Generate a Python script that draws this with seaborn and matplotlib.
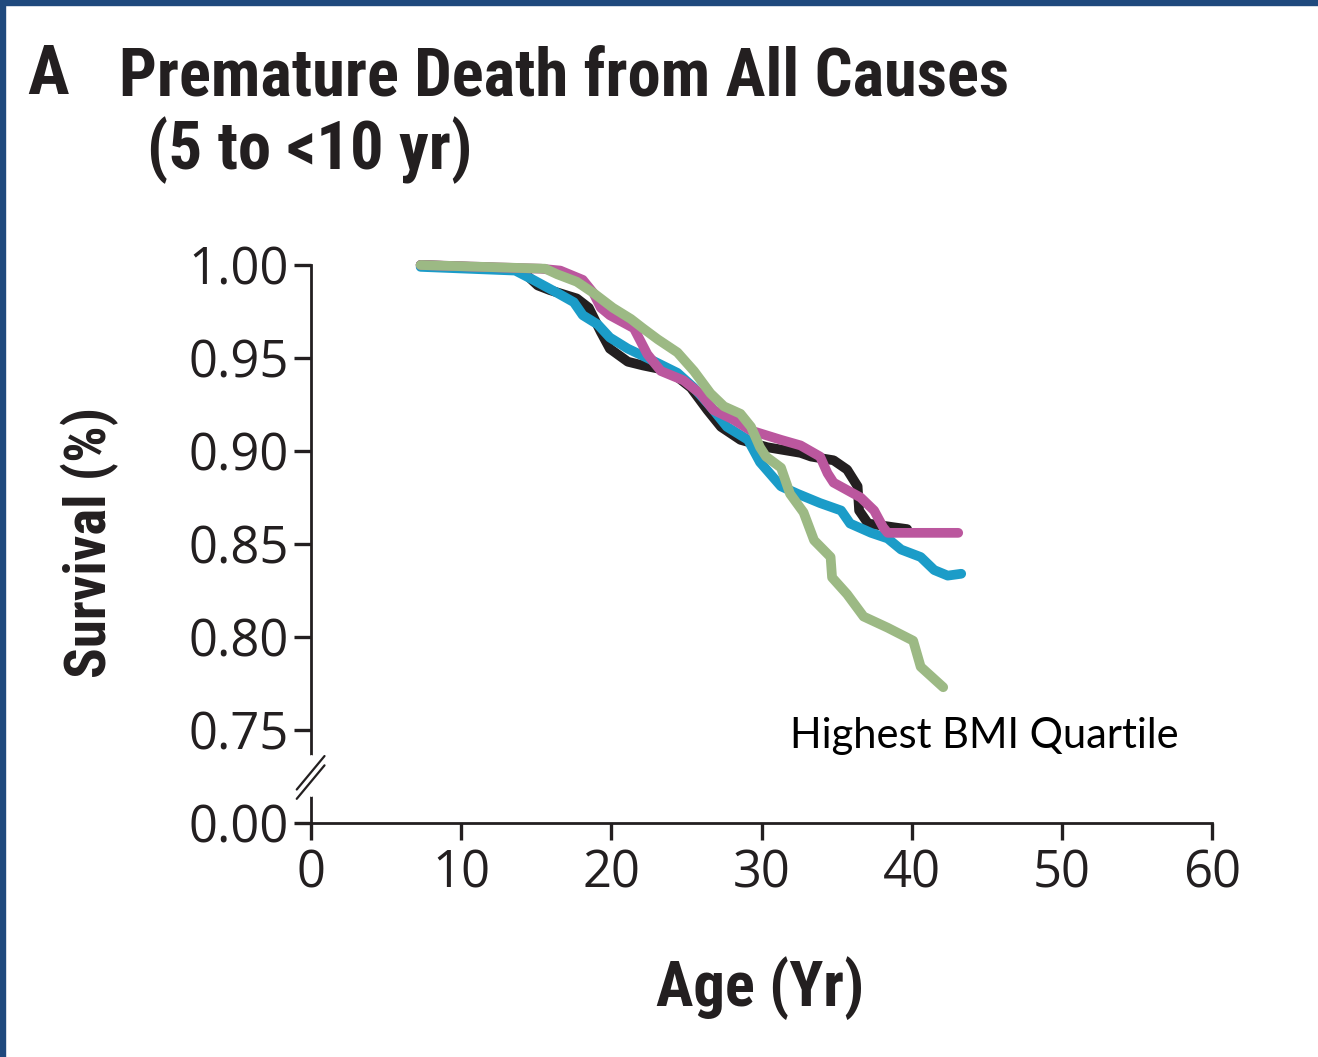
import numpy as np
import pandas as pd
import matplotlib
matplotlib.use("Agg")
import matplotlib.pyplot as plt
from matplotlib import font_manager
import seaborn as sns

# ---------------- data ----------------
black_age = [7.3, 13.9, 15.1, 15.9, 17.7, 18.5, 19.3, 19.9, 21.1, 22.1, 23.9, 25.3, 26.4, 27.3, 28.6,
             30.4, 32.6, 33.3, 34.8, 35.7, 36.4, 36.5, 37.1, 38.8, 39.7]
black_surv = [1.000, 0.998, 0.989, 0.9865, 0.982, 0.977, 0.964, 0.955, 0.948, 0.946, 0.943, 0.934, 0.922,
              0.913, 0.906, 0.902, 0.899, 0.897, 0.895, 0.890, 0.881, 0.868, 0.861, 0.859, 0.858]

blue_age = [7.3, 13.6, 14.8, 16.4, 17.5, 18.1, 19.1, 19.9, 21.1, 22.4, 24.4, 25.5, 26.6, 27.7, 29.1,
            29.9, 31.3, 32.4, 33.9, 35.3, 35.9, 37.3, 38.4, 39.3, 40.6, 41.5, 42.4, 43.3]
blue_surv = [0.999, 0.997, 0.992, 0.985, 0.980, 0.973, 0.968, 0.961, 0.955, 0.950, 0.942, 0.934, 0.924,
             0.913, 0.906, 0.894, 0.881, 0.877, 0.872, 0.868, 0.861, 0.856, 0.853, 0.847, 0.843, 0.836,
             0.833, 0.834]

magenta_age = [7.3, 15.3, 16.6, 18.1, 18.8, 19.3, 19.9, 21.5, 22.4, 23.3, 24.8, 25.9, 26.8, 28.1, 29.3,
               31.3, 32.6, 33.9, 34.4, 34.8, 36.6, 37.5, 38.1, 38.4, 39.9, 43.1]
magenta_surv = [1.000, 0.998, 0.997, 0.992, 0.985, 0.977, 0.973, 0.966, 0.952, 0.943, 0.938, 0.931,
                0.922, 0.917, 0.911, 0.906, 0.903, 0.897, 0.888, 0.883, 0.875, 0.868, 0.859, 0.856,
                0.856, 0.856]

green_age = [7.3, 15.6, 16.4, 17.7, 18.8, 20.1, 21.3, 22.1, 23.1, 24.4, 25.5, 26.6, 27.5, 28.6, 29.3,
             29.9, 30.3, 31.3, 31.9, 32.8, 33.5, 34.6, 34.7, 35.7, 36.8, 38.4, 40.1, 40.6, 42.1]
green_surv = [1.000, 0.998, 0.995, 0.991, 0.985, 0.977, 0.971, 0.966, 0.960, 0.953, 0.943, 0.931, 0.924,
              0.920, 0.913, 0.902, 0.897, 0.891, 0.877, 0.867, 0.852, 0.843, 0.832, 0.823, 0.811,
              0.805, 0.798, 0.784, 0.773]

group_names = ["Q1", "Q2", "Q3", "Highest BMI Quartile"]
x_ticks = [0, 10, 20, 30, 40, 50, 60]
y_ticks = [0.70, 0.75, 0.80, 0.85, 0.90, 0.95, 1.00]
y_tick_labels = ["0.00", "0.75", "0.80", "0.85", "0.90", "0.95", "1.00"]

# ---------------- fonts ----------------
sns.set_style("ticks")
avail = {f.name for f in font_manager.fontManager.ttflist}
def pick(*names):
    for n in names:
        if n in avail:
            return n
    return "DejaVu Sans"
cond_font = pick("Liberation Sans Narrow", "DejaVu Sans Condensed", "Roboto Condensed", "Liberation Sans")
tick_font = pick("Open Sans", "DejaVu Sans")
note_font = pick("Lato", "Open Sans", "DejaVu Sans")
plt.rcParams["font.family"] = [tick_font, "DejaVu Sans"]

# ---------------- data frame ----------------
frames = []
for name, a, s in zip(group_names,
                      [black_age, blue_age, magenta_age, green_age],
                      [black_surv, blue_surv, magenta_surv, green_surv]):
    frames.append(pd.DataFrame({"age": a, "surv": s, "group": name}))
df = pd.concat(frames, ignore_index=True)

palette = {"Q1": "#231f20", "Q2": "#1b9cc8", "Q3": "#bb579e", "Highest BMI Quartile": "#9cb984"}

fig = plt.figure(figsize=(13.18, 10.57), dpi=100)
W, H = 1318, 1057
ax = fig.add_axes([311 / W, 1 - 823 / H, (1212 - 311) / W, (823 - 265) / H])

sns.lineplot(data=df, x="age", y="surv", hue="group", palette=palette, hue_order=group_names,
             sort=False, estimator=None, linewidth=7, legend=False, ax=ax, clip_on=False)
for ln in ax.get_lines():
    ln.set_solid_capstyle("round")
    ln.set_solid_joinstyle("round")
    ln.set_clip_on(False)

ax.set_xlim(0, 60)
ax.set_ylim(0.70, 1.00)
ax.set_xticks(x_ticks)
ax.set_xticklabels([str(t) for t in x_ticks])
ax.set_yticks(y_ticks)
ax.set_yticklabels(y_tick_labels)
ax.set_xlabel("")
ax.set_ylabel("")
for sp in ["top", "right"]:
    ax.spines[sp].set_visible(False)
for sp in ["left", "bottom"]:
    ax.spines[sp].set_linewidth(2.0)
    ax.spines[sp].set_color("#231f20")
ax.tick_params(axis="both", direction="out", length=12, width=2.4, color="#231f20",
               labelsize=36.5, labelcolor="#231f20")
ax.tick_params(axis="y", pad=4)
ax.tick_params(axis="x", pad=6)

# axis break marks on the left spine
tr = ax.get_yaxis_transform()
ax.plot([0, 0], [0.716, 0.735], transform=tr, color="white", lw=5, clip_on=False, zorder=5)
for dy in (0.0, 0.005):
    ax.plot([-0.95 / 60, 0.9 / 60], [0.713 + dy, 0.731 + dy], transform=tr,
            color="#231f20", lw=1.6, clip_on=False, zorder=6)

# annotation
ax.text(31.9, 0.747, "Highest BMI Quartile", fontsize=30, family=[note_font, "DejaVu Sans"],
        color="black", va="center", ha="left")

# titles and labels
title_fam = [cond_font, "DejaVu Sans"]
fig.text(27 / W, 1 - 75 / H, "A", fontsize=50, fontweight="bold", family=title_fam,
         va="center", ha="left", color="#231f20")
fig.text(119 / W, 1 - 77 / H, "Premature Death from All Causes", fontsize=48, fontweight="bold",
         family=title_fam, va="center", ha="left", color="#231f20")
fig.text(147 / W, 1 - 150 / H, "(5 to <10 yr)", fontsize=48, fontweight="bold",
         family=title_fam, va="center", ha="left", color="#231f20")
fig.text(90 / W, 1 - 542 / H, "Survival (%)", fontsize=41, fontweight="bold", rotation=90,
         family=title_fam, va="center", ha="center", color="#231f20")
fig.text(760 / W, 1 - 988 / H, "Age (Yr)", fontsize=45, fontweight="bold",
         family=title_fam, va="center", ha="center", color="#231f20")

# blue frame (top and left edges)
border = "#1f497d"
fig.patches.append(plt.Rectangle((0, 1 - 5 / H), 1, 5 / H, transform=fig.transFigure,
                                 color=border, zorder=10))
fig.patches.append(plt.Rectangle((0, 0), 5 / W, 1, transform=fig.transFigure,
                                 color=border, zorder=10))

fig.savefig("out.png", dpi=100)
